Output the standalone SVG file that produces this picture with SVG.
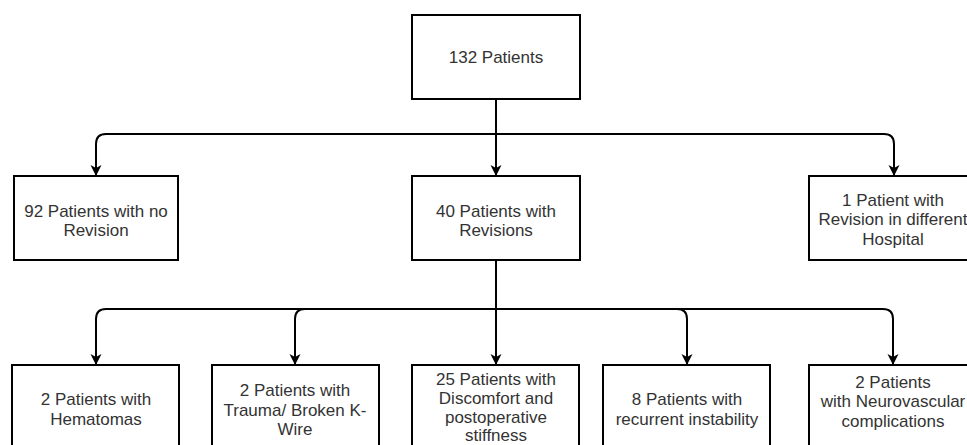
<svg xmlns="http://www.w3.org/2000/svg" width="967" height="445" viewBox="0 0 967 445">
<defs>
<marker id="arr" viewBox="0 0 12 12" refX="11" refY="6" markerWidth="12" markerHeight="12" markerUnits="userSpaceOnUse" orient="auto">
<path d="M0,0.5 L11,6 L0,11.5 L3,6 Z" fill="#000"/>
</marker>
<style>
.box{fill:#fff;stroke:#000;stroke-width:2}
.t{font-family:"Liberation Sans",Arial,Helvetica,sans-serif;font-size:17px;fill:#333;text-anchor:middle}
.c{fill:none;stroke:#000;stroke-width:2;marker-end:url(#arr)}
</style>
</defs>
<rect width="967" height="445" fill="#fff"/>
<g id="connectors">
<path class="c" d="M496,99 V134 H106 Q96,134 96,144 V176"/>
<path class="c" d="M496,99 V176"/>
<path class="c" d="M496,99 V134 H884 Q894,134 894,144 V176"/>
<path class="c" d="M496,260 V309 H106 Q96,309 96,319 V365"/>
<path class="c" d="M496,260 V309 H305 Q295,309 295,319 V365"/>
<path class="c" d="M496,260 V365"/>
<path class="c" d="M496,260 V309 H677 Q687,309 687,319 V365"/>
<path class="c" d="M496,260 V309 H883 Q893,309 893,319 V365"/>
</g>
<g id="n132">
<rect class="box" x="412" y="15" width="168" height="84"/>
<text class="t" x="496" y="63">132 Patients</text>
</g>
<g id="n92">
<rect class="box" x="14" y="176" width="164" height="84"/>
<text class="t" x="96" y="217">92 Patients with no</text>
<text class="t" x="96" y="236">Revision</text>
</g>
<g id="n40">
<rect class="box" x="412" y="176" width="168" height="84"/>
<text class="t" x="496" y="217">40 Patients with</text>
<text class="t" x="496" y="236">Revisions</text>
</g>
<g id="n1">
<rect class="box" x="809" y="176" width="168" height="84"/>
<text class="t" x="893" y="206">1 Patient with</text>
<text class="t" x="893" y="225">Revision in different</text>
<text class="t" x="893" y="245">Hospital</text>
</g>
<g id="b1">
<rect class="box" x="12" y="365" width="167" height="84"/>
<text class="t" x="96" y="405">2 Patients with</text>
<text class="t" x="96" y="425">Hematomas</text>
</g>
<g id="b2">
<rect class="box" x="212" y="365" width="167" height="84"/>
<text class="t" x="295" y="396">2 Patients with</text>
<text class="t" x="295" y="416">Trauma/ Broken K-</text>
<text class="t" x="295" y="435">Wire</text>
</g>
<g id="b3">
<rect class="box" x="412" y="365" width="167" height="84"/>
<text class="t" x="496" y="385">25 Patients with</text>
<text class="t" x="496" y="404">Discomfort and</text>
<text class="t" x="496" y="423">postoperative</text>
<text class="t" x="496" y="441">stiffness</text>
</g>
<g id="b4">
<rect class="box" x="603" y="365" width="167" height="84"/>
<text class="t" x="687" y="405">8 Patients with</text>
<text class="t" x="687" y="425">recurrent instability</text>
</g>
<g id="b5">
<rect class="box" x="809" y="365" width="168" height="84"/>
<text class="t" x="893" y="388">2 Patients</text>
<text class="t" x="893" y="407">with Neurovascular</text>
<text class="t" x="893" y="427">complications</text>
</g>
</svg>
